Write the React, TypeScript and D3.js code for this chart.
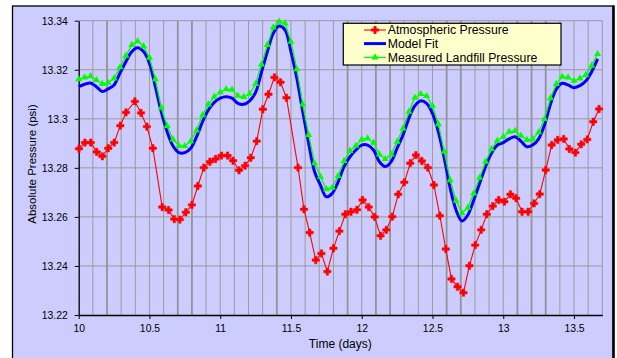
import { useEffect, useRef } from "react";
import * as d3 from "d3";

// atmospheric pressure (irregular sampling, days)
const atmTime = [10.002, 10.044, 10.085, 10.127, 10.167, 10.209, 10.251, 10.294, 10.334, 10.397, 10.44, 10.482, 10.524,
  10.59, 10.635, 10.675, 10.715, 10.757, 10.8, 10.842, 10.884, 10.927, 10.967,
  11.009, 11.052, 11.091, 11.133, 11.176, 11.216, 11.258, 11.301, 11.341, 11.383, 11.426, 11.468,
  11.55, 11.592, 11.632, 11.675, 11.715, 11.757, 11.8, 11.842, 11.884, 11.924, 11.966,
  12.006, 12.049, 12.091, 12.133, 12.174, 12.216, 12.258, 12.301, 12.343, 12.383, 12.425, 12.467,
  12.51, 12.552, 12.594, 12.634, 12.677, 12.719, 12.761, 12.802, 12.844, 12.884, 12.926, 12.968,
  13.008, 13.051, 13.091, 13.133, 13.176, 13.218, 13.258, 13.3, 13.342, 13.385, 13.427, 13.467,
  13.51, 13.551, 13.594, 13.636, 13.677];
const atmPressure = [13.2878, 13.2903, 13.2903, 13.2865, 13.2847, 13.288, 13.2903, 13.2972, 13.3026, 13.3071, 13.3024, 13.2968, 13.288,
  13.264, 13.2628, 13.2591, 13.2589, 13.2619, 13.2649, 13.2726, 13.2801, 13.2825, 13.2836,
  13.285, 13.285, 13.2829, 13.279, 13.2809, 13.2841, 13.2909, 13.3039, 13.31, 13.3169, 13.3149, 13.3086,
  13.2801, 13.2631, 13.2536, 13.2424, 13.2451, 13.2377, 13.2472, 13.2542, 13.2611, 13.2621, 13.2629,
  13.2669, 13.264, 13.26, 13.2523, 13.2547, 13.2601, 13.2692, 13.2741, 13.2819, 13.2852, 13.2828, 13.2801,
  13.273, 13.2605, 13.2469, 13.2347, 13.2315, 13.2291, 13.2401, 13.2485, 13.2547, 13.2611, 13.2644, 13.2669,
  13.2662, 13.2692, 13.2676, 13.2621, 13.2621, 13.2655, 13.2693, 13.2791, 13.2893, 13.2914, 13.2918, 13.2877,
  13.2862, 13.2896, 13.2916, 13.2988, 13.304];

// hourly series starting at day 10
const startDay = 10;
const hourStep = 1 / 24;
const fitPressure = [13.3131, 13.3141, 13.3146, 13.3131, 13.3111, 13.3122, 13.3138, 13.3186, 13.3233, 13.3274, 13.329, 13.3274, 13.3226,
  13.3131, 13.3029, 13.2947, 13.2889, 13.2862, 13.2862,
  13.288, 13.2927, 13.2988, 13.3036, 13.3067, 13.3084, 13.309, 13.3084, 13.3063, 13.3059, 13.3073, 13.3108, 13.319, 13.3274,
  13.3349, 13.3378, 13.3362,
  13.3274, 13.3165, 13.3029, 13.29, 13.2784, 13.273, 13.2682, 13.2696, 13.2743, 13.2805, 13.2845, 13.2873, 13.2893, 13.2893,
  13.2873, 13.2825, 13.2805, 13.2825,
  13.288, 13.2934, 13.3002, 13.3053, 13.3073, 13.3063, 13.3022, 13.2947, 13.2839, 13.2717, 13.2628, 13.2583, 13.2608, 13.2669,
  13.2737, 13.2805, 13.2859, 13.2893,
  13.2903, 13.2918, 13.2927, 13.2909, 13.2886, 13.2893, 13.2918, 13.2975, 13.3059, 13.3121, 13.3145, 13.3138, 13.3127, 13.3135,
  13.3154, 13.3192, 13.3244];
const landfillPressure = [13.3161, 13.3169, 13.3174, 13.3158, 13.3142, 13.3147, 13.3165, 13.321, 13.3257, 13.3301, 13.3316, 13.3296, 13.3249,
  13.3162, 13.3045, 13.2971, 13.2916, 13.289, 13.2889,
  13.2909, 13.2953, 13.3015, 13.3059, 13.309, 13.3108, 13.3121, 13.3119, 13.3094, 13.3089, 13.3102, 13.3142, 13.3222, 13.3301,
  13.3373, 13.3396, 13.3389,
  13.3314, 13.3202, 13.3059, 13.2934, 13.2819, 13.2764, 13.2713, 13.2719, 13.2767, 13.2828, 13.2869, 13.289, 13.2916, 13.292,
  13.2903, 13.2855, 13.2836, 13.2855,
  13.2907, 13.2961, 13.3029, 13.3086, 13.3101, 13.3093, 13.3053, 13.2978, 13.2866, 13.275, 13.2666, 13.2615, 13.2638, 13.2696,
  13.276, 13.2825, 13.2876, 13.2911,
  13.2927, 13.2947, 13.2951, 13.2931, 13.2914, 13.2918, 13.2945, 13.2999, 13.3084, 13.3142, 13.3172, 13.3169, 13.3155, 13.3165,
  13.3179, 13.3217, 13.3264];

const xTicks = [10, 10.5, 11, 11.5, 12, 12.5, 13, 13.5];
const yTicks = [13.22, 13.24, 13.26, 13.28, 13.3, 13.32, 13.34];
const heavyGrid = [10.2, 10.7, 10.8, 11.4, 11.9, 12.1, 12.2, 12.6, 12.7, 13.1, 13.2, 13.3];
const legendLabels = ["Atmospheric Pressure", "Model Fit", "Measured Landfill Pressure"];

const FONT = "'Liberation Sans', Arial, sans-serif";

export default function App() {
  const ref = useRef<HTMLDivElement>(null);

  useEffect(() => {
    const width = 617;
    const height = 358;

    const x = d3.scaleLinear([10, 13.7], [78.7, 602.3]);
    const y = d3.scaleLinear([13.22, 13.34], [315, 20.7]);

    const svg = d3.select(ref.current)
      .append("svg")
      .attr("width", width)
      .attr("height", height)
      .style("display", "block");

    svg.append("rect").attr("width", width).attr("height", height).attr("fill", "#fff");

    // chart frame
    svg.append("rect")
      .attr("x", 12.5).attr("y", 6)
      .attr("width", 600.8).attr("height", 400)
      .attr("fill", "#ccccff")
      .attr("stroke", "#000").attr("stroke-width", 1.3);
    svg.append("line")
      .attr("x1", 613.5).attr("x2", 613.5).attr("y1", 5.5).attr("y2", height)
      .attr("stroke", "#000").attr("stroke-width", 2.6);

    // gridlines
    const gridDays = d3.range(101, 138).map((d) => d / 10);
    const isHeavy = (d: number) => heavyGrid.some((h) => Math.abs(h - d) < 1e-6);
    svg.append("g")
      .selectAll("line")
      .data(gridDays)
      .join("line")
      .attr("x1", (d) => x(d)).attr("x2", (d) => x(d))
      .attr("y1", y(13.34)).attr("y2", y(13.22))
      .attr("stroke", (d) => isHeavy(d) ? "#939393" : "#9c9c9c")
      .attr("stroke-width", (d) => isHeavy(d) ? 1.8 : 1);

    svg.append("g")
      .selectAll("line")
      .data(yTicks.slice(1))
      .join("line")
      .attr("x1", x(10)).attr("x2", x(13.7))
      .attr("y1", (d) => y(d)).attr("y2", (d) => y(d))
      .attr("stroke", "#9a9a9a")
      .attr("stroke-width", 1);

    // axes
    const yAxis = svg.append("g")
      .attr("transform", `translate(${x(10)},0)`)
      .call(d3.axisLeft(y).tickValues(yTicks).tickSize(4).tickSizeOuter(0).tickPadding(7)
        .tickFormat((d) => String(Math.round(+d * 100) / 100)));
    const xAxis = svg.append("g")
      .attr("transform", `translate(0,${y(13.22)})`)
      .call(d3.axisBottom(x).tickValues(xTicks).tickSize(4).tickSizeOuter(0).tickPadding(5.4)
        .tickFormat((d) => String(d)));
    [yAxis, xAxis].forEach((g) => {
      g.select(".domain").attr("stroke", "#000").attr("stroke-width", 1.3);
      g.selectAll(".tick line").attr("stroke", "#000");
      g.selectAll("text").style("font-family", FONT).style("font-size", "10.4px").attr("fill", "#000");
    });

    // atmospheric pressure
    const atm = atmTime.map((t, i) => ({ t, v: atmPressure[i] }));
    const line = d3.line<{ t: number; v: number }>().x((d) => x(d.t)).y((d) => y(d.v));
    svg.append("path")
      .datum(atm)
      .attr("fill", "none").attr("stroke", "#ff0000").attr("stroke-width", 1.1)
      .attr("d", line);
    const atmMarker = d3.symbol(d3.symbolCross, 30)();
    svg.append("g")
      .selectAll("path")
      .data(atm)
      .join("path")
      .attr("transform", (d) => `translate(${x(d.t)},${y(d.v)})`)
      .attr("d", atmMarker)
      .attr("fill", "#ff0000")
      .attr("stroke", "#ff0000").attr("stroke-width", 0.5).attr("stroke-linejoin", "round");

    // model fit
    const fit = fitPressure.map((v, i) => ({ t: startDay + i * hourStep, v }));
    svg.append("path")
      .datum(fit)
      .attr("fill", "none").attr("stroke", "#0000ff").attr("stroke-width", 3)
      .attr("stroke-linejoin", "round")
      .attr("d", line.curve(d3.curveCatmullRom.alpha(0.5)));
    line.curve(d3.curveLinear);

    // measured landfill pressure
    const meas = landfillPressure.map((v, i) => ({ t: startDay + i * hourStep, v }));
    svg.append("path")
      .datum(meas)
      .attr("fill", "none").attr("stroke", "#00ff00").attr("stroke-width", 1.3)
      .attr("d", line);
    const measMarker = d3.symbol(d3.symbolTriangle, 22)();
    svg.append("g")
      .selectAll("path")
      .data(meas)
      .join("path")
      .attr("transform", (d) => `translate(${x(d.t)},${y(d.v)})`)
      .attr("d", measMarker)
      .attr("fill", "#00ff00");

    // axis titles
    svg.append("text")
      .attr("x", 340.3).attr("y", 348)
      .attr("text-anchor", "middle")
      .style("font-family", FONT).style("font-size", "12px")
      .text("Time (days)");
    svg.append("text")
      .attr("transform", "translate(35.5,164) rotate(-90)")
      .attr("text-anchor", "middle")
      .style("font-family", FONT).style("font-size", "11.5px")
      .text("Absolute Pressure (psi)");

    // legend
    const legend = svg.append("g");
    legend.append("rect")
      .attr("x", 343.3).attr("y", 23.3).attr("width", 217.7).attr("height", 41.7)
      .attr("fill", "#ffffcc").attr("stroke", "#000").attr("stroke-width", 1.2);
    const colors = ["#ff0000", "#0000ff", "#00ff00"];
    const widths = [1.1, 3, 1.3];
    const rowY = [30, 43.6, 57.4];
    legendLabels.forEach((label, i) => {
      legend.append("line")
        .attr("x1", 364).attr("x2", 386).attr("y1", rowY[i]).attr("y2", rowY[i])
        .attr("stroke", colors[i]).attr("stroke-width", widths[i]);
      if (i !== 1) {
        legend.append("path")
          .attr("transform", `translate(375,${rowY[i]})`)
          .attr("d", i === 0 ? atmMarker : measMarker)
          .attr("fill", colors[i])
          .attr("stroke", i === 0 ? colors[i] : "none").attr("stroke-width", 0.5);
      }
      legend.append("text")
        .attr("x", 387.7).attr("y", rowY[i] + 4.3)
        .style("font-family", FONT).style("font-size", "12.3px")
        .text(label);
    });

    return () => {
      d3.select(ref.current).selectAll("*").remove();
    };
  }, []);

  return <div ref={ref} style={{ position: "absolute", left: 0, top: 0 }} />;
}
